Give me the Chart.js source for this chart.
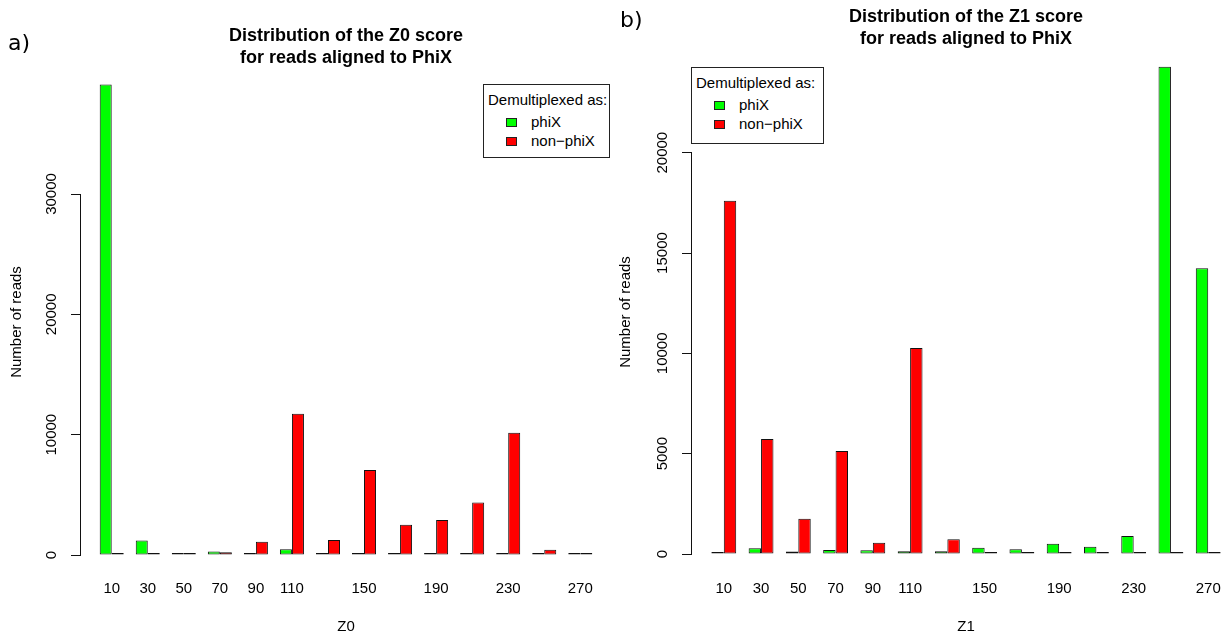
<!DOCTYPE html>
<html lang="en">
<head>
<meta charset="UTF-8">
<title>Distribution of the Z0 and Z1 scores for reads aligned to PhiX</title>
<script src="https://cdn.jsdelivr.net/npm/chart.js@4.4.0/dist/chart.umd.min.js"></script>
<style>
  html, body { margin: 0; padding: 0; background: #fff; overflow: hidden; }
  #page { position: relative; width: 1225px; height: 637px; overflow: hidden; }
  .panel { position: absolute; top: 0; }
  .tag { position: absolute; font-family: "DejaVu Sans", sans-serif; font-size: 22px; line-height: 26px; color: #000; }
  .legend { position: absolute; box-sizing: border-box; border: 1px solid #222; background: #fff;
            font: 15px "Liberation Sans", Arial, sans-serif; color: #000; }
  .legend div { position: absolute; line-height: 18px; white-space: nowrap; }
  .legend .sw { width: 11px; height: 9px; box-sizing: border-box; border: 1px solid #222; }
</style>
</head>
<body>
<div id="page">
  <div class="panel" style="left:0"><canvas id="chartZ0" width="612" height="637"></canvas></div>
  <div class="panel" style="left:612px"><canvas id="chartZ1" width="629" height="637"></canvas></div>
  <div class="tag" style="left:8px; top:30px">a)</div>
  <div class="tag" style="left:620px; top:7px">b)</div>
  <div class="legend" id="legendZ0" style="left:483px; top:84px; width:127px; height:74px"></div>
  <div class="legend" id="legendZ1" style="left:691px; top:67px; width:133px; height:77px"></div>
</div>

<script>
// categories (score bins) and the labels R managed to print under them
const zScores = [10, 30, 50, 70, 90, 110, 130, 150, 170, 190, 210, 230, 250, 270];
const zTickLabels = [10, 30, 50, 70, 90, 110, 150, 190, 230, 270];

const seriesNames = ['phiX', 'non\u2212phiX'];
const seriesColors = ['#00ff00', '#ff0000'];

// read counts, Z0 panel
const z0PhiX    = [39100, 1200, 140, 300, 170, 470, 100, 100, 40, 60, 150, 90, 12, 10];
const z0NonPhiX = [20, 30, 90, 230, 1100, 11740, 1240, 7070, 2510, 2900, 4370, 10160, 430, 110];
const z0Ticks   = [0, 10000, 20000, 30000];

// read counts, Z1 panel
const z1PhiX    = [85, 285, 120, 200, 185, 135, 135, 315, 235, 515, 365, 900, 24280, 14240];
const z1NonPhiX = [17610, 5730, 1760, 5135, 565, 10270, 735, 85, 40, 10, 8, 8, 8, 8];
const z1Ticks   = [0, 5000, 10000, 15000, 20000];

const FONT = '"Liberation Sans", Arial, sans-serif';
Chart.defaults.font.family = FONT;
Chart.defaults.font.size = 15;
Chart.defaults.color = '#000';

// R-style y axis: labels parallel to the axis, axis title centred on the plot region
const rAxisText = {
  id: 'rAxisText',
  afterDraw(chart, args, opts) {
    const y = chart.scales.y;
    const ctx = chart.ctx;
    ctx.save();
    ctx.fillStyle = '#000';
    ctx.font = '15px ' + FONT;
    ctx.textAlign = 'center';
    ctx.textBaseline = 'middle';
    y.ticks.forEach(t => {
      ctx.save();
      ctx.translate(y.right - 28, y.getPixelForValue(t.value));
      ctx.rotate(-Math.PI / 2);
      ctx.fillText(String(t.value), 0, 0);
      ctx.restore();
    });
    ctx.translate(opts.titleX, opts.titleY);
    ctx.rotate(-Math.PI / 2);
    ctx.fillText(opts.title, 0, 0);
    ctx.restore();
  }
};

function makeLegend(id, inset) {
  const box = document.getElementById(id);
  let html = '<div style="left:' + inset.x + 'px; top:' + inset.titleTop + 'px">Demultiplexed as:</div>';
  seriesNames.forEach((name, i) => {
    const top = inset.itemTop + i * inset.step;
    html += '<div class="sw" style="left:' + inset.swX + 'px; top:' + (top + 5) + 'px; background:' + seriesColors[i] + '"></div>';
    html += '<div style="left:' + inset.textX + 'px; top:' + top + 'px">' + name + '</div>';
  });
  box.innerHTML = html;
}

function makePanel(canvasId, p) {
  const ctx = document.getElementById(canvasId).getContext('2d');
  return new Chart(ctx, {
    type: 'bar',
    data: {
      labels: zScores,
      datasets: [
        { label: seriesNames[0], data: p.phiX, backgroundColor: seriesColors[0] },
        { label: seriesNames[1], data: p.nonPhiX, backgroundColor: seriesColors[1] }
      ]
    },
    options: {
      responsive: false,
      animation: false,
      layout: { padding: 0 },
      datasets: {
        bar: {
          borderColor: '#111',
          borderWidth: 1,
          borderSkipped: false,
          categoryPercentage: 2 / 3,
          barPercentage: 1,
          minBarLength: 2,
          clip: false
        }
      },
      plugins: {
        legend: { display: false },
        tooltip: { enabled: false },
        title: {
          display: true,
          fullSize: false,
          text: [p.title, 'for reads aligned to PhiX'],
          font: { size: 18, weight: 'bold', lineHeight: 22 / 18 },
          color: '#000',
          padding: { top: p.titleTop, bottom: p.titleBottom }
        },
        rAxisText: { title: 'Number of reads', titleX: p.yTitleX, titleY: p.yTitleY }
      },
      scales: {
        x: {
          type: 'linear',
          offset: false,
          min: -7.6,
          max: 287.6,
          afterBuildTicks: s => { s.ticks = zTickLabels.map(v => ({ value: v })); },
          afterFit: s => { s.height = p.xAxisHeight; },
          // invisible tick marks only push the labels down, R draws no x axis line
          grid: { display: true, drawOnChartArea: false, drawTicks: true, tickLength: p.labelGap, color: 'rgba(0,0,0,0)' },
          border: { display: false },
          ticks: { autoSkip: false, maxRotation: 0, padding: 0, font: { size: 15 } },
          title: { display: true, text: p.xTitle, font: { size: 15 }, padding: { top: 0, bottom: 1 } }
        },
        y: {
          min: 0,
          max: p.ticks[p.ticks.length - 1],
          afterBuildTicks: s => { s.ticks = p.ticks.map(v => ({ value: v })); },
          afterFit: s => { s.width = p.yAxisWidth; },
          grid: { drawOnChartArea: false, drawTicks: true, tickLength: 9, color: '#111', lineWidth: 1 },
          border: { display: true, color: '#111', width: 1 },
          ticks: { display: false }
        }
      }
    },
    plugins: [rAxisText]
  });
}

makePanel('chartZ0', {
  phiX: z0PhiX, nonPhiX: z0NonPhiX, ticks: z0Ticks,
  title: 'Distribution of the Z0 score', xTitle: 'Z0',
  titleTop: 25, titleBottom: 125, yAxisWidth: 80, xAxisHeight: 82, labelGap: 25,
  yTitleX: 17, yTitleY: 322
});
makePanel('chartZ1', {
  phiX: z1PhiX, nonPhiX: z1NonPhiX, ticks: z1Ticks,
  title: 'Distribution of the Z1 score', xTitle: 'Z1',
  titleTop: 6.5, titleBottom: 102.2, yAxisWidth: 79, xAxisHeight: 83, labelGap: 26,
  yTitleX: 14, yTitleY: 312
});

makeLegend('legendZ0', { x: 4, titleTop: 6, swX: 22, textX: 47, itemTop: 28, step: 18.5 });
makeLegend('legendZ1', { x: 4, titleTop: 6, swX: 22, textX: 47, itemTop: 28, step: 18.5 });
</script>
</body>
</html>
